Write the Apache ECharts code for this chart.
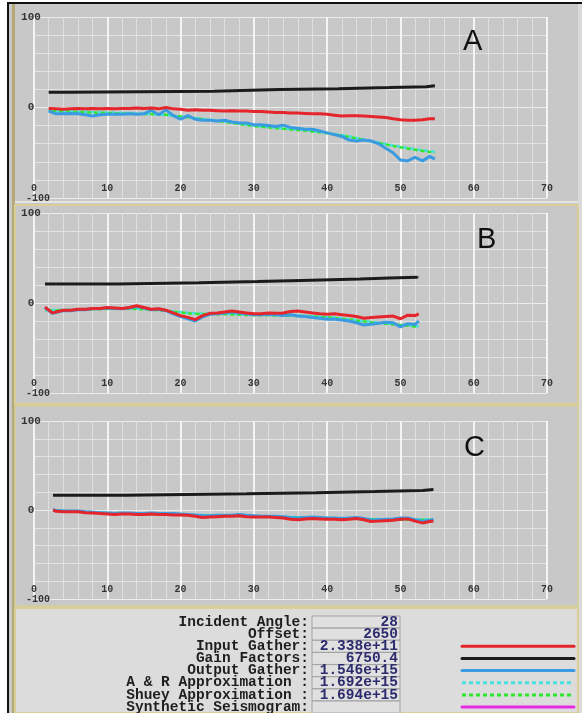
<!DOCTYPE html>
<html><head><meta charset="utf-8">
<script src="https://cdn.jsdelivr.net/npm/echarts@6/dist/echarts.min.js"></script>
<style>html,body{margin:0;padding:0;background:#fff}#c{width:582px;height:713px}</style>
</head><body><div id="c"></div>
<script>
// ---------- data ----------
const panelNames = ['A', 'B', 'C'];
const xTicks = [0, 10, 20, 30, 40, 50, 60, 70];
const yTicks = [-100, 0, 100];

// Panel A
const aAng = [2,3,4,5,6,7,8,9,10,11,12,13,14,15,16,17,18,19,20,21,22,23,24,25,26,27,28,29,30,31,32,33,34,35,36,37,38,39,40,41,42,43,44,45,46,47,48,49,50,51,52,53,54,54.7];
const inputA = [-1,-1.5,-2,-1.5,-1,-1.5,-1,-1.5,-1,-1.5, -1,-1,-0.5,-1,-0.5,-1.5,0,-1.5,-2,-3, -2.5,-3,-3,-3.5,-4,-3.5,-4,-4,-4.5,-4.5, -5,-5.5,-5.5,-6,-6,-6.5,-7,-7,-7.5,-8.5, -9.5,-9,-9,-9.5,-10,-10.5,-11,-12.5,-13.5,-14, -14,-13.5,-12.5,-12.5];
const outputA = [-4,-7,-7,-6.5,-7,-8,-9.5,-8,-7.5,-7.5, -7.5,-7,-7.5,-7,-3,-8,-2.5,-9,-13,-9, -13,-14,-14,-15,-14,-16,-17,-17,-19,-19, -20,-21,-19.5,-22,-23,-24,-24,-26,-28,-30, -32,-36,-37,-36,-37,-40,-45,-50,-58,-59, -55,-59,-54,-57];
const gainAX = [2,4.5,24.5,33.5,41.5,48.5,53.5,54.7];
const gainAY = [16.8,18,19.8,20.8,22,23,24,24.5];
const approxAX = [2,6,10,14,18,22,26,30,34,38,42,46,50,54.7];
const arA = [-3.5,-4.5,-5.5,-6.5,-8.5,-11.5,-15.5,-20,-23,-26,-30.5,-37,-43.5,-49];
const shueyA = [-4,-5,-6,-7,-8,-12,-16,-20.5,-23.5,-26.5,-31,-37.5,-44,-50];

// Panel B
const bAng = [1.5,2.5,3,4,5,6,7,8,9,10,11,12,13,14,15,16,17,18,19,20,21,22,23,24,25,26,27,28,29,30,31,32,33,34,35,36,37,38,39,40,41,42,43,44,45,46,47,48,49,50,51,52,52.5];
const inputB = [-4.5,-11, -10,-8,-8,-7,-7,-6,-6,-5,-5.5,-6, -5,-3,-5,-7,-6.5,-8,-11,-14,-16,-18.5, -14,-11.5,-11,-10,-9,-10,-11,-12,-12,-11, -11.5,-11,-9.5,-9,-10,-11,-12,-12.5,-12,-13, -14,-15,-17,-16,-15.5,-15,-14.5,-17.5,-13.5,-14, -12];
const outputB = [-5,-11.5, -10.5,-8.5,-8.5,-7.5,-7.5,-6.5,-6.5,-5.5,-6,-6.5, -5.5,-4,-5.5,-7.5,-7,-8.5,-12,-15,-17.5,-20, -15.5,-12.5,-12,-11,-10,-11,-12,-13,-13,-12.5, -13,-14,-13,-14.5,-15,-16,-17,-18,-18,-19, -20,-22,-24.5,-23.5,-22.5,-21.5,-22,-26.5,-23,-24, -20];
const gainBX = [1.5,11.5,22.5,30.5,36.5,40.5,44.5,48.5,52.3];
const gainBY = [21,22.5,23.8,25,25.8,26.6,27.8,28.5,29.5];
const approxBX = [1.5,4,8,12,16,20,22,26,30,34,38,42,46,50,52.5];
const arB = [-8,-7.5,-6.5,-6,-7,-10,-11.5,-12,-13,-13.5,-14.5,-17,-21,-24,-26];
const shueyB = [-8.5,-8,-7,-6.5,-7.5,-10.5,-12,-12.5,-13.5,-14,-15,-17.5,-21.5,-24.5,-26.5];

// Panel C
const cAng = [2.6,3,4,5,6,7,8,9,10,11,12,13,14,15,16,17,18,19,20,21,22,23,24,25,26,27,28,29,30,31,32,33,34,35,36,37,38,39,40,41,42,43,44,45,46,47,48,49,50,51,52,53,54,54.5];
const inputC = [0, -1.5,-2,-2,-2,-3,-3.5,-4,-4.5,-5,-4.5, -4.5,-5,-5,-4.5,-5,-5,-5.5,-5.5,-6,-7, -8.5,-8,-7.5,-7,-7,-6.5,-7.5,-8,-8,-8, -8.5,-9,-10.5,-11,-10,-9.5,-10,-10.5,-10.5,-11, -10.5,-9.5,-11,-13,-12.5,-12,-11.5,-10.5,-10,-12.5, -14.5,-13, -12.5];
const outputC = [0.5, -0.5,-1,-1,-1,-2,-2.5,-3,-3.5,-4,-3.5, -3.5,-4,-4,-3.5,-4,-4,-4,-4.5,-5,-5.5, -6.5,-6.5,-6,-6,-6,-5,-6,-6.5,-7,-7, -7,-7.5,-8.5,-9,-8.5,-8,-8.5,-9,-9,-9.5, -9,-8.5,-9.5,-11.5,-11,-10.5,-10,-9,-9,-11, -12.5,-11.5, -10.5];
const gainCX = [2.6,12.5,29,38.5,46.5,53,54.5];
const gainCY = [16.7,18.2,19.5,20.8,22,23,23.2];
const approxCX = [2.6,6,10,14,18,22,26,30,34,38,42,46,50,54.5];
const arC = [0,-1.5,-3,-4,-4.5,-5.5,-6,-6.5,-7.5,-8.5,-9,-10,-10.5,-10.5];
const shueyC = [-0.5,-2,-3.5,-4.5,-5,-6,-6.5,-7,-8,-9,-9.5,-10.5,-11,-11];

// Info table
const infoLabels = ['Incident Angle:', 'Offset:', 'Input Gather:', 'Gain Factors:', 'Output Gather:', 'A & R Approximation :', 'Shuey Approximation :', 'Synthetic Seismogram:'];
const infoValues = ['28', '2650', '2.338e+11', '6750.4', '1.546e+15', '1.692e+15', '1.694e+15', ''];
const seriesNames = ['Input Gather', 'Gain Factors', 'Output Gather', 'A & R Approximation', 'Shuey Approximation', 'Synthetic Seismogram'];

// ---------- styles ----------
const COL = {
  'Input Gather': '#e4252b',
  'Gain Factors': '#1b1b1b',
  'Output Gather': '#3a9ae2',
  'A & R Approximation': '#46e2e2',
  'Shuey Approximation': '#2ee62e',
  'Synthetic Seismogram': '#e62ae6'
};
const DASHED = {'A & R Approximation': true, 'Shuey Approximation': true};

const pts = (xs, ys) => xs.map((x, i) => [x, ys[i]]);

const panels = [
  {input: [aAng, inputA], output: [aAng, outputA], gain: [gainAX, gainAY], ar: [approxAX, arA], shuey: [approxAX, shueyA]},
  {input: [bAng, inputB], output: [bAng, outputB], gain: [gainBX, gainBY], ar: [approxBX, arB], shuey: [approxBX, shueyB]},
  {input: [cAng, inputC], output: [cAng, outputC], gain: [gainCX, gainCY], ar: [approxCX, arC], shuey: [approxCX, shueyC]}
];

const grids = [
  {left: 34, top: 17, width: 513, height: 181},
  {left: 34, top: 213, width: 513, height: 180},
  {left: 34, top: 421, width: 513, height: 178}
];

const labelFont = {fontFamily: 'Liberation Mono', fontWeight: 'bold', color: '#353535'};

const xAxes = grids.map((g, i) => ({
  type: 'value', gridIndex: i, min: xTicks[0], max: xTicks[xTicks.length - 1], interval: 10,
  axisLine: {show: false}, axisTick: {show: false},
  axisLabel: Object.assign({inside: true, margin: 5, fontSize: 10}, labelFont),
  splitLine: {show: true, lineStyle: {color: '#f4f4f4', width: 2}},
  minorTick: {show: true, splitNumber: 5, length: 0, lineStyle: {opacity: 0}},
  minorSplitLine: {show: true, lineStyle: {color: '#e0e0e0', width: 1}}
}));
const yAxes = grids.map((g, i) => ({
  type: 'value', gridIndex: i, min: yTicks[0], max: yTicks[yTicks.length - 1], interval: 100,
  axisLine: {show: false}, axisTick: {show: false},
  axisLabel: Object.assign({margin: 3, align: 'center', fontSize: 11,
    formatter: v => v === -100 ? '{m|-100}' : String(v),
    rich: {m: {padding: [0, 0, 0, 14], fontSize: 10, fontFamily: 'Liberation Mono', fontWeight: 'bold', color: '#353535'}}
  }, labelFont),
  splitLine: {show: true, lineStyle: {color: '#ececec', width: 1}},
  minorTick: {show: true, splitNumber: 5, length: 0, lineStyle: {opacity: 0}},
  minorSplitLine: {show: true, lineStyle: {color: '#e2e2e2', width: 1}}
}));

function line(name, gi, xy, extra) {
  const dashed = DASHED[name];
  return Object.assign({
    name, type: 'line', xAxisIndex: gi, yAxisIndex: gi,
    data: pts(xy[0], xy[1]), symbol: 'none', showSymbol: false,
    lineStyle: {color: COL[name], width: dashed ? 2.5 : 3, type: dashed ? [4, 3] : 'solid'},
    itemStyle: {color: COL[name]}, animation: false, silent: true
  }, extra || {});
}

const series = [];
panels.forEach((p, gi) => {
  series.push(line('A & R Approximation', gi, p.ar, {smooth: 0.4}));
  const s = line('Shuey Approximation', gi, p.shuey, {smooth: 0.4});
  s.lineStyle.dashOffset = 3.5;
  series.push(s);
  series.push(line('Output Gather', gi, p.output));
  series.push(line('Gain Factors', gi, p.gain, {step: 'end'}));
  series.push(line('Input Gather', gi, p.input));
});

// ---------- frame & info table (graphic) ----------
const g = [];
g.push({type: 'rect', z: -20, shape: {x: 9, y: 4, width: 570, height: 709}, style: {fill: '#c8c8c8'}});
g.push({type: 'rect', z: -19, shape: {x: 578, y: 4, width: 4, height: 709}, style: {fill: '#dadada'}});
g.push({type: 'rect', z: -19, shape: {x: 7, y: 2, width: 575, height: 2}, style: {fill: '#111'}});
g.push({type: 'rect', z: -19, shape: {x: 7, y: 2, width: 2, height: 711}, style: {fill: '#111'}});
g.push({type: 'rect', z: -19, shape: {x: 12, y: 4, width: 3, height: 709}, style: {fill: '#b6a978'}});
g.push({type: 'rect', z: -19, shape: {x: 15, y: 201, width: 563, height: 2}, style: {fill: '#e4e4e4'}});
g.push({type: 'rect', z: -19, shape: {x: 15, y: 205, width: 563, height: 199}, style: {fill: 'none', stroke: '#d8ce96', lineWidth: 2}});
g.push({type: 'rect', z: -19, shape: {x: 15, y: 406, width: 563, height: 200}, style: {fill: 'none', stroke: '#d8ce96', lineWidth: 1.5}});
g.push({type: 'rect', z: -19, shape: {x: 15, y: 608, width: 563, height: 105}, style: {fill: '#dcdcdc', stroke: '#d8ce96', lineWidth: 2}});

const row0 = 622, rowH = 12.15;
infoLabels.forEach((lab, i) => {
  const yc = row0 + rowH * i;
  g.push({type: 'rect', z: 5, shape: {x: 312, y: yc - 6, width: 88, height: 12}, style: {fill: '#e0e0e0', stroke: '#a2a2a2', lineWidth: 1}});
  g.push({type: 'text', z: 6, x: 309, y: yc, style: {text: lab, align: 'right', verticalAlign: 'middle', font: 'bold 14.5px "Liberation Mono"', fill: '#1e1e1e'}});
  if (infoValues[i]) g.push({type: 'text', z: 6, x: 398, y: yc, style: {text: infoValues[i], align: 'right', verticalAlign: 'middle', font: 'bold 14.5px "Liberation Mono"', fill: '#2b2b6e'}});
});
seriesNames.forEach((n, k) => {
  const yc = row0 + rowH * (k + 2);
  g.push({type: 'line', z: 6, shape: {x1: 462, y1: yc, x2: 574, y2: yc},
    style: {stroke: COL[n], lineWidth: 3, lineCap: DASHED[n] ? 'butt' : 'round', lineDash: DASHED[n] ? [4, 3] : null}});
});

const titlePos = [[463, 27], [477, 225], [464, 433]];
const titles = panelNames.map((t, i) => ({
  text: t, left: titlePos[i][0], top: titlePos[i][1], padding: 0,
  textStyle: {fontFamily: 'Liberation Sans', fontSize: 29, fontWeight: 'normal', color: '#111'}
}));

const chart = echarts.init(document.getElementById('c'), null, {renderer: 'canvas'});
chart.setOption({
  animation: false,
  backgroundColor: '#ffffff',
  title: titles,
  grid: grids.map(gr => Object.assign({show: false}, gr)),
  xAxis: xAxes,
  yAxis: yAxes,
  series: series,
  graphic: {elements: g}
});
</script></body></html>
